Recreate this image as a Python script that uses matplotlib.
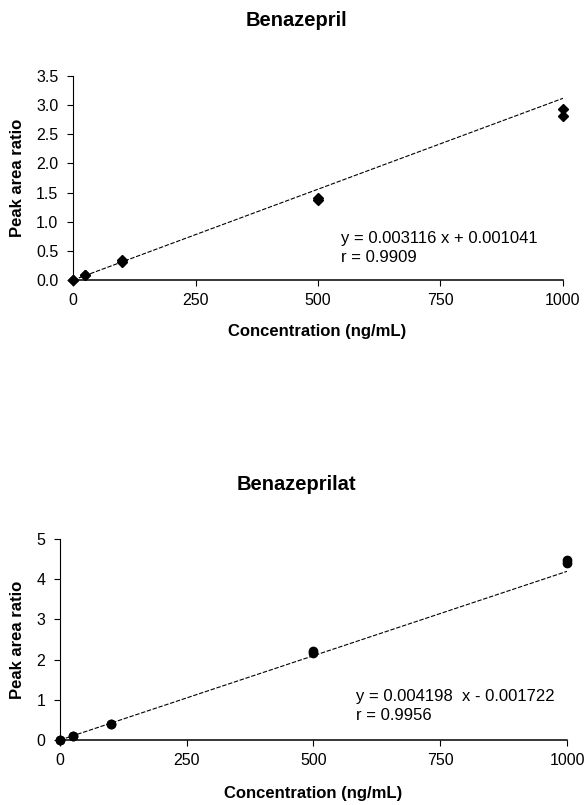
import matplotlib
matplotlib.use("Agg")
import matplotlib.pyplot as plt
import numpy as np

plt.rcParams['font.family'] = ['Liberation Sans', 'DejaVu Sans']

# Benazepril calibration data
conc_a = [0, 0, 25, 25, 100, 100, 500, 500, 1000, 1000]
ratio_a = [0.0, 0.01, 0.08, 0.09, 0.31, 0.35, 1.37, 1.40, 2.93, 2.81]
slope_a, icpt_a = 0.003116, 0.001041
r_a = 0.9909

# Benazeprilat calibration data
conc_b = [0, 0, 25, 25, 100, 100, 500, 500, 1000, 1000]
ratio_b = [0.0, 0.01, 0.10, 0.11, 0.40, 0.41, 2.17, 2.21, 4.40, 4.47]
slope_b, icpt_b = 0.004198, -0.001722
r_b = 0.9956

xticks = [0, 250, 500, 750, 1000]

fig = plt.figure(figsize=(5.87, 8.05), dpi=100)
ax1 = fig.add_axes([0.1244, 0.652, 0.8346, 0.2536])
ax2 = fig.add_axes([0.102, 0.0807, 0.864, 0.2497])


def style(ax, yticks, yfmt):
    ax.spines['top'].set_visible(False)
    ax.spines['right'].set_visible(False)
    ax.spines['left'].set_linewidth(0.8)
    ax.spines['bottom'].set_linewidth(1.1)
    ax.set_xlim(0, 1000)
    ax.set_xticks(xticks)
    ax.set_yticks(yticks)
    ax.set_yticklabels([yfmt.format(v) for v in yticks])
    ax.tick_params(labelsize=11.5, length=4, width=0.8, direction='out')
    ax.tick_params(axis='y', pad=6.5)
    ax.tick_params(axis='x', pad=5)
    ax.set_ylabel('Peak area ratio', fontsize=12, fontweight='bold')


xfit = np.array([0, 1000])

ax1.plot(xfit, slope_a * xfit + icpt_a, color='black', lw=0.8, dashes=(4, 1.5))
ax1.plot(conc_a, ratio_a, 'D', color='black', ms=5.5, clip_on=False)
style(ax1, [0, 0.5, 1.0, 1.5, 2.0, 2.5, 3.0, 3.5], '{:.1f}')
ax1.set_ylim(0, 3.5)
ax1.text(0.547, 0.157, 'y = 0.003116 x + 0.001041\nr = 0.9909', transform=ax1.transAxes,
         fontsize=12, va='center', linespacing=1.3)
ax1.yaxis.set_label_coords(-0.098, 0.5)

ax2.plot(xfit, slope_b * xfit + icpt_b, color='black', lw=0.8, dashes=(4, 1.5))
ax2.plot(conc_b, ratio_b, 'o', color='black', ms=6, clip_on=False)
style(ax2, [0, 1, 2, 3, 4, 5], '{:d}')
ax2.set_ylim(0, 5)
ax2.text(0.584, 0.169, 'y = 0.004198  x - 0.001722\nr = 0.9956', transform=ax2.transAxes,
         fontsize=12, va='center', linespacing=1.3)
ax2.yaxis.set_label_coords(-0.069, 0.5)

fig.text(296 / 587, 1 - 21 / 805, 'Benazepril', ha='center', va='center',
         fontsize=14.5, fontweight='bold')
fig.text(317 / 587, 1 - 331 / 805, 'Concentration (ng/mL)', ha='center', va='center',
         fontsize=12, fontweight='bold')
fig.text(296 / 587, 1 - 484 / 805, 'Benazeprilat', ha='center', va='center',
         fontsize=14.5, fontweight='bold')
fig.text(313 / 587, 1 - 793 / 805, 'Concentration (ng/mL)', ha='center', va='center',
         fontsize=12, fontweight='bold')

fig.savefig('out.png', dpi=100)
